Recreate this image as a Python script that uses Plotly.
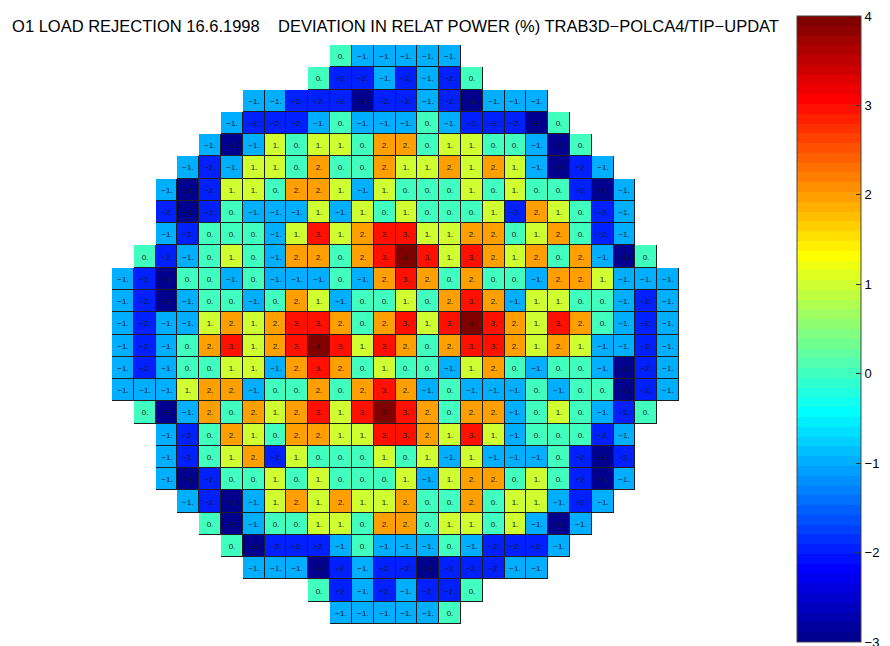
import plotly.graph_objects as go

# ---- data: each row of the core map, with the column where it starts ----
row_start = [10, 9, 6, 5, 4, 3, 2, 2, 2, 1, 0, 0, 0, 0, 0, 0, 1, 2, 2, 2, 3, 4, 5, 6, 9, 10]
row00 = [0, -1, -1, -1, -1, -1]
row01 = [0, -2, -2, -1, -2, -1, -2, 0]
row02 = [-1, -1, -2, -2, -2, -3, -2, -2, -1, -2, -3, -1, -1, -1]
row03 = [-1, -2, -2, -2, -1, 0, -1, -1, -1, 0, -1, -2, -2, -2, -3, 0]
row04 = [-1, -3, -1, 1, 0, 1, 1, 0, 2, 2, 0, 1, 1, 0, 0, -1, -3, 0]
row05 = [-1, -2, -1, 1, 1, 0, 2, 0, 0, 2, 1, 1, 2, 1, 2, 1, -1, -3, -2, -1]
row06 = [-1, -3, -2, 1, 1, 0, 2, 2, 1, -1, 1, 0, 0, 0, 1, 0, 1, 0, 0, -2, -3, -1]
row07 = [-2, -3, -2, 0, -1, -1, -1, 1, -1, 1, 0, 1, 0, 0, 0, 1, -2, 2, 1, 0, -2, -1]
row08 = [-1, -2, 0, 0, 0, -1, 1, 3, 1, 2, 3, 3, 1, 1, 2, 2, 0, 1, 2, 0, -2, -1]
row09 = [0, -2, -1, 0, 1, 0, -1, 2, 2, 0, 2, 3, 4, 3, 1, 3, 2, 1, 2, 0, 2, -1, -3, 0]
row10 = [-1, -2, -3, 0, 0, -1, 0, -1, -1, -1, 0, -1, 2, 3, 2, 0, 2, 0, 0, -1, 2, 2, 1, -1, -1, -1]
row11 = [-1, -2, -3, -1, 0, 0, -1, 0, 2, 1, -1, 0, 0, 1, 0, 2, 3, 2, -1, 1, 1, 0, 0, -1, -2, -1]
row12 = [-1, -2, -1, -1, 1, 2, 1, 2, 3, 3, 2, 0, 2, 3, 1, 3, 4, 3, 2, 1, 3, 2, 0, -1, -2, -1]
row13 = [-1, -2, -1, 0, 2, 3, 1, 2, 3, 4, 3, 1, 3, 2, 0, 2, 3, 3, 2, 1, 2, 1, -1, -1, -2, -1]
row14 = [-1, -2, -1, 0, 0, 1, 1, -1, 2, 3, 2, 0, 1, 0, 0, -1, 1, 2, 0, -1, 0, 0, -1, -3, -2, -1]
row15 = [-1, -1, -1, 1, 2, 2, -1, 0, 0, 2, 0, 2, 3, 2, -1, 0, -1, -1, -1, 0, -1, 0, 0, -3, -2, -1]
row16 = [0, -3, -1, 2, 0, 2, 1, 2, 3, 1, 3, 4, 3, 2, 0, 2, 2, -1, 0, 1, 0, -1, -2, 0]
row17 = [-1, -2, 0, 2, 1, 0, 2, 2, 1, 1, 3, 3, 2, 1, 3, 1, -1, 0, 0, 0, -2, -1]
row18 = [-1, -2, 0, 1, 2, -2, 1, 0, 0, 0, 1, 0, 1, -1, 1, -1, -1, -1, 0, -2, -3, -2]
row19 = [-1, -3, -2, 0, 0, 1, 0, 1, 0, 0, 0, 1, -1, 1, 2, 2, 0, 1, 0, -2, -3, -1]
row20 = [-1, -2, -3, -1, 1, 2, 1, 2, 1, 1, 2, 0, 0, 2, 0, 1, 1, -1, -2, -1]
row21 = [0, -3, -1, 0, 0, 1, 1, 0, 2, 2, 0, 1, 1, 0, 1, -1, -3, -1]
row22 = [0, -3, -2, -2, -2, -1, 0, -1, -1, -1, 0, -1, -2, -2, -2, -1]
row23 = [-1, -1, -1, -3, -2, -1, -2, -2, -3, -2, -2, -2, -1, -1]
row24 = [0, -2, -1, -2, -1, -2, -2, 0]
row25 = [-1, -1, -1, -1, -1, 0]
rows = [row00, row01, row02, row03, row04, row05, row06, row07, row08, row09,
        row10, row11, row12, row13, row14, row15, row16, row17, row18, row19,
        row20, row21, row22, row23, row24, row25]
colorbar_ticks = [-3, -2, -1, 0, 1, 2, 3, 4]
title_text = ("O1 LOAD REJECTION 16.6.1998    DEVIATION IN RELAT POWER (%) "
              "TRAB3D\u2212POLCA4/TIP\u2212UPDAT")

N = 26
z = [[None] * N for _ in range(N)]
mask = [[None] * N for _ in range(N)]
txt = [[""] * N for _ in range(N)]
for r, (s, vals) in enumerate(zip(row_start, rows)):
    for k, v in enumerate(vals):
        c = s + k
        z[r][c] = v
        mask[r][c] = 1
        txt[r][c] = (str(v) + ".").replace("-", "\u2212")


# ---- MATLAB jet(64), discrete ----
def jet64(k):  # k = 1..64
    if k <= 8:
        rgb = (0, 0, 0.5 + k / 16)
    elif k <= 24:
        rgb = (0, (k - 8) / 16, 1)
    elif k <= 40:
        rgb = ((k - 24) / 16, 1, 1 - (k - 24) / 16)
    elif k <= 56:
        rgb = (1, 1 - (k - 40) / 16, 0)
    else:
        rgb = (1 - (k - 56) / 16, 0, 0)
    return "rgb(%d,%d,%d)" % tuple(round(255 * x) for x in rgb)


cs = []
for i in range(64):
    col = jet64(i + 1)
    cs.append([i / 64, col])
    cs.append([(i + 1) / 64, col])

# ---- geometry (pixels) ----
W, H = 890, 646
ML, MT, PLOT = 104, 37, 579          # square plot area
MR, MB = W - ML - PLOT, H - MT - PLOT
CB_LEFT, CB_TOP, CB_BOTTOM, CB_W = 804, 8, 634, 64
CB_LEN = CB_BOTTOM - CB_TOP


def px_to_paper_x(px):
    return (px - ML) / PLOT


def px_to_paper_y(py):
    return (MT + PLOT - py) / PLOT


fig = go.Figure()
fig.add_trace(go.Heatmap(
    z=mask, colorscale=[[0, "#1e1e1e"], [1, "#1e1e1e"]], showscale=False,
    hoverinfo="skip"))
fig.add_trace(go.Heatmap(
    z=z, text=txt, texttemplate="%{text}",
    textfont=dict(size=8, color="#1a1a1a", family="Liberation Sans, Arial"),
    colorscale=cs, zmin=-3, zmax=4, xgap=1, ygap=1,
    colorbar=dict(
        x=px_to_paper_x(CB_LEFT), xanchor="left", xpad=0,
        y=px_to_paper_y((CB_TOP + CB_BOTTOM) / 2), yanchor="middle", ypad=0,
        lenmode="pixels", len=CB_LEN, thicknessmode="pixels", thickness=CB_W,
        outlinewidth=1, outlinecolor="#444",
        tickvals=colorbar_ticks,
        ticktext=[str(t).replace("-", "\u2212") for t in colorbar_ticks],
        ticks="inside", ticklen=5, tickcolor="#333", tickwidth=1,
        ticklabeloverflow="allow",
        tickfont=dict(size=13, color="black", family="Liberation Sans, Arial"),
    ),
))

# left-edge inward tick marks on the colour bar (MATLAB draws both sides)
shapes = []
for t in colorbar_ticks[1:-1]:
    py = CB_BOTTOM - (t - colorbar_ticks[0]) / (colorbar_ticks[-1] - colorbar_ticks[0]) * CB_LEN
    shapes.append(dict(type="line", xref="paper", yref="paper",
                       x0=px_to_paper_x(CB_LEFT), x1=px_to_paper_x(CB_LEFT + 5),
                       y0=px_to_paper_y(py), y1=px_to_paper_y(py),
                       line=dict(color="#333", width=1)))

fig.update_layout(
    width=W, height=H,
    margin=dict(l=ML, r=MR, t=MT, b=MB, pad=0),
    paper_bgcolor="white", plot_bgcolor="white",
    xaxis=dict(range=[-0.5, N - 0.5], visible=False, fixedrange=True),
    yaxis=dict(range=[N - 0.5, -0.5], visible=False, fixedrange=True),
    title=dict(text=title_text, x=0.5, xref="paper", xanchor="center",
               y=1 - 18 / H, yref="container", yanchor="middle",
               font=dict(size=16.5, color="black", family="Liberation Sans, Arial")),
    shapes=shapes,
    showlegend=False,
)

fig.write_html("out.html")
